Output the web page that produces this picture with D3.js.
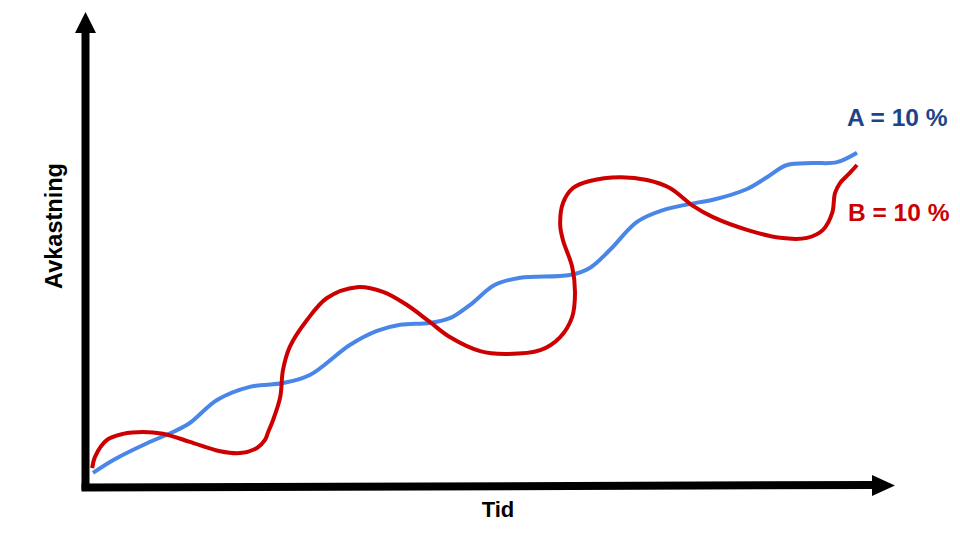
<!DOCTYPE html>
<html>
<head>
<meta charset="utf-8">
<script src="https://cdn.jsdelivr.net/npm/d3@7"></script>
<style>
  html, body { margin: 0; padding: 0; background: #fff; }
  svg { display: block; }
  text { font-family: Arial, "Liberation Sans", sans-serif; font-weight: bold; }
</style>
</head>
<body>
<svg id="chart" width="960" height="540"></svg>
<script>
// Series A (blue) – [time, return]
const seriesA = [
  [1.0, 2.8], [3.5, 5.5], [7.75, 9.1], [11.0, 11.5], [13.1, 13.4], [16.5, 18.3],
  [20.6, 21.1], [24.75, 21.9], [28.1, 23.6], [33.1, 30.0], [36.5, 33.0], [39.4, 34.3],
  [43.1, 34.7], [45.6, 35.7], [48.1, 38.5], [51.25, 42.8], [54.4, 44.3], [60.6, 44.9],
  [63.1, 46.4], [65.6, 50.2], [69.0, 56.2], [72.25, 58.7], [76.9, 60.4], [78.5, 60.9],
  [82.75, 63.2], [85.25, 65.7], [87.75, 68.3], [91.0, 68.7], [94.0, 68.9], [96.5, 70.9]
];
// Series B (red) – [time, return]
const seriesB = [
  [0.9, 3.8], [1.25, 6.2], [2.75, 9.8], [4.75, 11.1], [7.25, 11.5], [9.75, 11.1],
  [13.1, 9.4], [16.9, 7.4], [19.4, 7.0], [21.5, 8.1], [22.5, 9.8], [22.9, 11.5],
  [23.5, 14.0], [24.4, 18.9], [24.75, 24.7], [25.6, 29.6], [27.75, 35.3], [30.25, 40.0],
  [34.0, 42.3], [37.25, 41.3], [40.25, 38.5], [43.1, 34.9], [45.6, 31.7], [49.4, 28.7],
  [52.5, 28.1], [56.9, 28.9], [59.4, 31.7], [60.9, 36.0], [61.25, 41.1], [60.9, 46.6],
  [59.75, 52.3], [59.4, 55.5], [59.75, 60.2], [61.0, 63.4], [63.1, 64.9], [66.9, 65.7],
  [70.25, 65.1], [73.1, 63.4], [76.0, 59.6], [78.5, 57.2], [82.75, 54.5], [86.9, 52.8],
  [90.25, 52.8], [92.25, 54.5], [93.4, 58.1], [93.75, 62.3], [94.4, 64.5], [95.6, 66.6],
  [96.5, 68.3]
];
const seriesLabels = ["A = 10 %", "B = 10 %"];
const axisLabels = { x: "Tid", y: "Avkastning" };

const svg = d3.select("#chart");
const x = d3.scaleLinear().domain([0, 100]).range([85, 885]);
const y = d3.scaleLinear().domain([0, 100]).range([486, 16]);

// Axes
svg.append("line").attr("x1", 85.5).attr("y1", 490).attr("x2", 85.5).attr("y2", 30)
  .attr("stroke", "#000").attr("stroke-width", 8);
svg.append("polygon").attr("points", "75,33 96,33 85.5,12").attr("fill", "#000");
svg.append("line").attr("x1", 81.5).attr("y1", 487.5).attr("x2", 875).attr("y2", 485)
  .attr("stroke", "#000").attr("stroke-width", 8);
svg.append("polygon").attr("points", "872,475 872,496 895,485.5").attr("fill", "#000");

// Axis labels
svg.append("text").attr("x", 498).attr("y", 517).attr("text-anchor", "middle")
  .attr("font-size", 22).attr("fill", "#000").text(axisLabels.x);
svg.append("text").attr("transform", "translate(62,226) rotate(-90)")
  .attr("text-anchor", "middle").attr("font-size", 23.5).attr("fill", "#000").text(axisLabels.y);

// Lines
const line = d3.line().x(d => x(d[0])).y(d => y(d[1])).curve(d3.curveCatmullRom.alpha(0.5));
svg.append("path").datum(seriesA).attr("d", line).attr("fill", "none")
  .attr("stroke", "#4a86e8").attr("stroke-width", 4).attr("stroke-linecap", "butt");
svg.append("path").datum(seriesB).attr("d", line).attr("fill", "none")
  .attr("stroke", "#cc0000").attr("stroke-width", 4).attr("stroke-linecap", "butt");

// Series labels
svg.append("text").attr("x", 847).attr("y", 126).attr("font-size", 24.5)
  .attr("fill", "#1c4587").text(seriesLabels[0]);
svg.append("text").attr("x", 848).attr("y", 221).attr("font-size", 24.5)
  .attr("fill", "#cc0000").text(seriesLabels[1]);
</script>
</body>
</html>
